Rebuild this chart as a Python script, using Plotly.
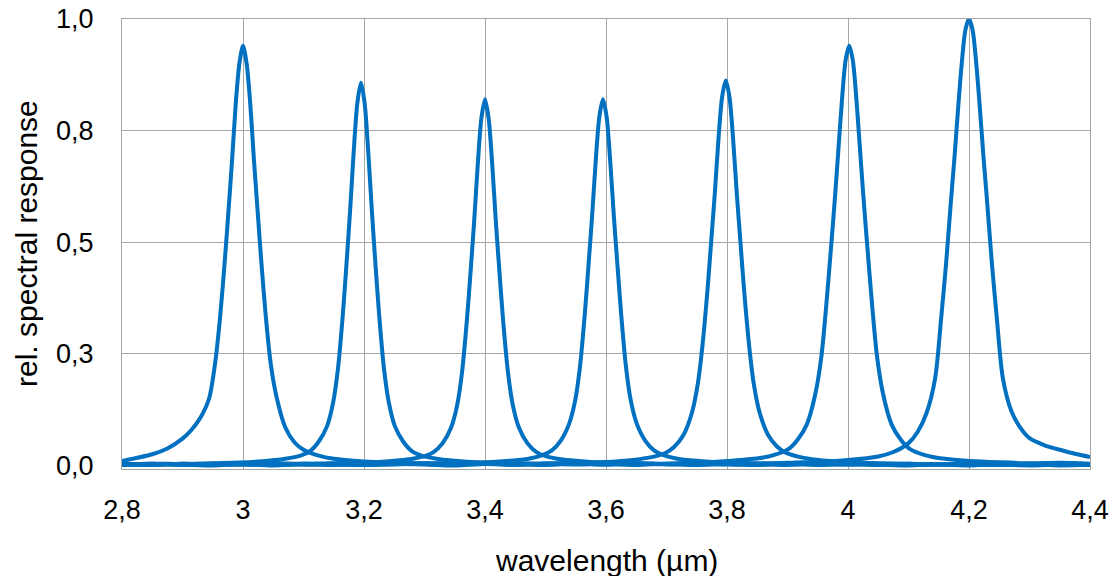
import plotly.graph_objects as go

# ---- tick labels ----
x_tickvals = [2.8, 3.0, 3.2, 3.4, 3.6, 3.8, 4.0, 4.2, 4.4]
x_ticktext = ["2,8", "3", "3,2", "3,4", "3,6", "3,8", "4", "4,2", "4,4"]
y_tickvals = [0.0, 0.25, 0.5, 0.75, 1.0]
y_ticktext = ["0,0", "0,3", "0,5", "0,8", "1,0"]

# ---- filter curves (wavelength in µm, relative response) ----
wl_1 = [2.80, 2.85, 2.875, 2.90, 2.915, 2.93, 2.944, 2.954, 2.962, 2.970, 2.976, 2.982, 2.988, 2.994,
        3.000, 3.006, 3.012, 3.018, 3.024, 3.030, 3.038, 3.046, 3.056, 3.070, 3.085, 3.100, 3.125, 3.150,
        3.200, 3.25, 3.30, 3.35, 3.40, 3.45, 3.50, 3.55, 3.60, 3.65, 3.70, 3.75, 3.80, 3.85, 3.90, 3.95,
        4.00, 4.05, 4.10, 4.15, 4.20, 4.25, 4.30, 4.35, 4.40]
resp_1 = [0.010, 0.025, 0.038, 0.060, 0.080, 0.108, 0.150, 0.230, 0.330, 0.460, 0.570, 0.685, 0.810, 0.900,
          0.940, 0.900, 0.810, 0.686, 0.573, 0.461, 0.329, 0.226, 0.150, 0.085, 0.052, 0.035, 0.022, 0.015,
          0.009, 0.006, 0.004, 0.005, 0.003, 0.005, 0.002, 0.004, 0.003, 0.005, 0.002, 0.004, 0.003, 0.001,
          0.004, 0.002, 0.003, 0.001, 0.004, 0.002, 0.000, 0.003, 0.001, 0.002, 0.001]

wl_2 = [2.80, 2.85, 2.90, 2.95,
        2.995, 3.045, 3.070, 3.095, 3.110, 3.125, 3.139, 3.149, 3.157, 3.165, 3.171, 3.177, 3.183, 3.189,
        3.195, 3.201, 3.207, 3.213, 3.219, 3.225, 3.233, 3.241, 3.251, 3.265, 3.280, 3.295, 3.320, 3.345,
        3.395,
        3.45, 3.50, 3.55, 3.60, 3.65, 3.70, 3.75, 3.80, 3.85, 3.90, 3.95, 4.00, 4.05, 4.10, 4.15, 4.20,
        4.25, 4.30, 4.35, 4.40]
resp_2 = [0.002, 0.004, 0.003, 0.005,
          0.0065, 0.011, 0.015, 0.022, 0.031, 0.053, 0.088, 0.141, 0.217, 0.338, 0.450, 0.570, 0.703, 0.812,
          0.857, 0.812, 0.703, 0.570, 0.450, 0.338, 0.217, 0.141, 0.088, 0.053, 0.031, 0.022, 0.015, 0.011,
          0.0065,
          0.005, 0.003, 0.004, 0.002, 0.004, 0.003, 0.001, 0.003, 0.002, 0.004, 0.001, 0.003, 0.002, 0.000,
          0.003, 0.001, 0.002, 0.000, 0.002, 0.001]

wl_3 = [2.80, 2.85, 2.90, 2.95, 3.00, 3.05, 3.10, 3.15,
        3.200, 3.250, 3.275, 3.300, 3.315, 3.330, 3.344, 3.354, 3.362, 3.370, 3.376, 3.382, 3.388, 3.394,
        3.400, 3.406, 3.412, 3.418, 3.424, 3.430, 3.438, 3.446, 3.456, 3.470, 3.485, 3.500, 3.525, 3.550,
        3.600,
        3.65, 3.70, 3.75, 3.80, 3.85, 3.90, 3.95, 4.00, 4.05, 4.10, 4.15, 4.20, 4.25, 4.30, 4.35, 4.40]
resp_3 = [0.001, 0.003, 0.002, 0.004, 0.002, 0.003, 0.004, 0.005,
          0.006, 0.0105, 0.014, 0.021, 0.030, 0.050, 0.085, 0.135, 0.208, 0.324, 0.431, 0.545, 0.673, 0.777,
          0.820, 0.777, 0.673, 0.545, 0.431, 0.324, 0.208, 0.135, 0.085, 0.050, 0.030, 0.021, 0.014, 0.0105,
          0.006,
          0.004, 0.003, 0.005, 0.002, 0.003, 0.001, 0.004, 0.002, 0.003, 0.001, 0.002, 0.004, 0.001, 0.003,
          0.000, 0.002]

wl_4 = [2.80, 2.85, 2.90, 2.95, 3.00, 3.05, 3.10, 3.15, 3.20, 3.25, 3.30, 3.35,
        3.395, 3.445, 3.470, 3.495, 3.510, 3.525, 3.539, 3.549, 3.557, 3.565, 3.571, 3.577, 3.583, 3.589,
        3.595, 3.601, 3.607, 3.613, 3.619, 3.625, 3.633, 3.641, 3.651, 3.665, 3.680, 3.695, 3.720, 3.745,
        3.795,
        3.85, 3.90, 3.95, 4.00, 4.05, 4.10, 4.15, 4.20, 4.25, 4.30, 4.35, 4.40]
resp_4 = [0.003, 0.001, 0.004, 0.002, 0.003, 0.005, 0.002, 0.004, 0.003, 0.005, 0.004, 0.005,
          0.0066, 0.011, 0.0146, 0.023, 0.033, 0.055, 0.093, 0.145, 0.221, 0.340, 0.447, 0.558, 0.681, 0.781,
          0.820, 0.781, 0.681, 0.558, 0.447, 0.340, 0.221, 0.145, 0.093, 0.055, 0.033, 0.023, 0.0146, 0.011,
          0.0066,
          0.005, 0.003, 0.004, 0.002, 0.004, 0.001, 0.003, 0.002, 0.004, 0.001, 0.003, 0.002]

wl_5 = [2.80, 2.85, 2.90, 2.95, 3.00, 3.05, 3.10, 3.15, 3.20, 3.25, 3.30, 3.35, 3.40, 3.45, 3.50, 3.55,
        3.598, 3.648, 3.673, 3.698, 3.713, 3.728, 3.742, 3.752, 3.760, 3.768, 3.774, 3.780, 3.786, 3.792,
        3.798, 3.804, 3.810, 3.816, 3.822, 3.828, 3.836, 3.844, 3.854, 3.868, 3.883, 3.898, 3.923, 3.948,
        3.998,
        4.05, 4.10, 4.15, 4.20, 4.25, 4.30, 4.35, 4.40]
resp_5 = [0.002, 0.004, 0.001, 0.003, 0.002, 0.004, 0.003, 0.001, 0.004, 0.002, 0.005, 0.003, 0.004, 0.002,
          0.005, 0.006,
          0.0076, 0.013, 0.018, 0.028, 0.042, 0.068, 0.118, 0.185, 0.276, 0.397, 0.504, 0.612, 0.733, 0.826,
          0.862, 0.826, 0.733, 0.612, 0.504, 0.397, 0.276, 0.185, 0.118, 0.068, 0.042, 0.028, 0.018, 0.013,
          0.0076,
          0.005, 0.004, 0.002, 0.003, 0.001, 0.004, 0.002, 0.003]

wl_6 = [2.80, 2.85, 2.90, 2.95, 3.00, 3.05, 3.10, 3.15, 3.20, 3.25, 3.30, 3.35, 3.40, 3.45, 3.50, 3.55,
        3.60, 3.65, 3.70, 3.75,
        3.802, 3.852, 3.877, 3.902, 3.917, 3.932, 3.946, 3.956, 3.964, 3.972, 3.978, 3.984, 3.990, 3.996,
        4.002, 4.008, 4.014, 4.020, 4.026, 4.032, 4.040, 4.048, 4.058, 4.072, 4.087, 4.102, 4.127, 4.152,
        4.202,
        4.25, 4.30, 4.35, 4.40]
resp_6 = [0.003, 0.001, 0.004, 0.002, 0.003, 0.000, 0.004, 0.002, 0.001, 0.003, 0.005, 0.002, 0.004, 0.003,
          0.001, 0.004, 0.002, 0.005, 0.004, 0.006,
          0.010, 0.016, 0.023, 0.037, 0.058, 0.092, 0.160, 0.244, 0.357, 0.489, 0.592, 0.705, 0.818, 0.907,
          0.940, 0.907, 0.818, 0.705, 0.592, 0.489, 0.357, 0.244, 0.160, 0.092, 0.058, 0.037, 0.023, 0.016,
          0.010,
          0.007, 0.005, 0.006, 0.004]

wl_7 = [2.80, 2.85, 2.90, 2.95, 3.00, 3.05, 3.10, 3.15, 3.20, 3.25, 3.30, 3.35, 3.40, 3.45, 3.50, 3.55,
        3.60, 3.65, 3.70, 3.75, 3.80, 3.85, 3.90, 3.95,
        4.000, 4.050, 4.075, 4.100, 4.115, 4.130, 4.144, 4.154, 4.162, 4.170, 4.176, 4.182, 4.188, 4.194,
        4.200, 4.206, 4.212, 4.218, 4.224, 4.230, 4.238, 4.246, 4.256, 4.270, 4.285, 4.300, 4.325, 4.350,
        4.375, 4.400]
resp_7 = [0.001, 0.003, 0.002, 0.000, 0.003, 0.001, 0.002, 0.004, 0.001, 0.003, 0.002, 0.000, 0.003, 0.001,
          0.004, 0.002, 0.003, 0.001, 0.004, 0.003, 0.005, 0.004, 0.006, 0.008,
          0.012, 0.020, 0.030, 0.050, 0.075, 0.118, 0.195, 0.330, 0.450, 0.590, 0.690, 0.800, 0.900, 0.975,
          1.000, 0.975, 0.900, 0.800, 0.690, 0.590, 0.450, 0.330, 0.195, 0.122, 0.084, 0.061, 0.045, 0.035,
          0.026, 0.019]

curves = [(wl_1, resp_1), (wl_2, resp_2), (wl_3, resp_3), (wl_4, resp_4),
          (wl_5, resp_5), (wl_6, resp_6), (wl_7, resp_7)]

LINE_COLOR = "#0070C0"
GRID_COLOR = "#a6a6a6"
FONT = "Liberation Sans, Arial, sans-serif"

fig = go.Figure()
for wl, resp in curves:
    fig.add_trace(go.Scatter(x=wl, y=resp, mode="lines",
                             line=dict(color=LINE_COLOR, width=4, shape="spline", smoothing=0.8),
                             showlegend=False, hoverinfo="skip"))

fig.update_layout(
    width=1112, height=576,
    margin=dict(l=122, r=22, t=19, b=107, autoexpand=False),
    paper_bgcolor="white", plot_bgcolor="white",
    font=dict(family=FONT, color="#000000", size=27),
    xaxis=dict(range=[2.8, 4.4], tickvals=x_tickvals, ticktext=x_ticktext, automargin=False,
               showgrid=True, gridcolor=GRID_COLOR, gridwidth=1,
               showline=True, linecolor=GRID_COLOR, linewidth=1, mirror=True,
               zeroline=False, ticks="", ticklabelstandoff=17,
               tickfont=dict(family=FONT, size=27, color="#000000")),
    yaxis=dict(range=[-0.008, 1.0], tickvals=y_tickvals, ticktext=y_ticktext, automargin=False,
               showgrid=True, gridcolor=GRID_COLOR, gridwidth=1,
               showline=True, linecolor=GRID_COLOR, linewidth=1, mirror=True,
               zeroline=False, ticks="", ticklabelstandoff=22,
               tickfont=dict(family=FONT, size=27, color="#000000")),
    annotations=[
        dict(text="wavelength (µm)", xref="paper", yref="paper", x=0.5, y=0,
             xanchor="center", yanchor="middle", yshift=-91, showarrow=False,
             font=dict(family=FONT, size=30, color="#000000")),
        dict(text="rel. spectral response", xref="paper", yref="paper", x=0, y=0.5,
             xanchor="center", yanchor="middle", xshift=-96, textangle=-90, showarrow=False,
             font=dict(family=FONT, size=30, color="#000000")),
    ],
)

fig.write_html("out.html", config={"displayModeBar": False},
               post_script="document.body.style.margin='0px';document.body.style.overflow='hidden';")
